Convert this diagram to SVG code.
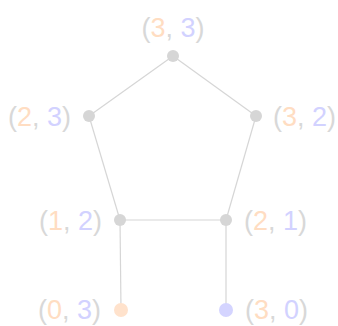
<svg xmlns="http://www.w3.org/2000/svg" width="338" height="326" viewBox="0 0 338 326">
<style>
.e{stroke:#d6d6d6;stroke-width:1.2;fill:none}
.n{fill:#d6d6d6}
.t{font-family:"Liberation Sans",Arial,sans-serif;font-size:27px;fill:#d8d8d8}
.o{fill:#ffddc2}
.b{fill:#d2d2ff}
</style>
<rect width="338" height="326" fill="#ffffff"/>
<g id="connectors">
<line class="e" x1="173" y1="56" x2="89" y2="116"/>
<line class="e" x1="173" y1="56" x2="256" y2="116"/>
<line class="e" x1="89" y1="116" x2="120" y2="220"/>
<line class="e" x1="256" y1="116" x2="226" y2="220"/>
<line class="e" x1="120" y1="220" x2="226" y2="220"/>
<line class="e" x1="120" y1="220" x2="121" y2="310"/>
<line class="e" x1="226" y1="220" x2="226" y2="310"/>
</g>
<g id="n33"><circle class="n" cx="173" cy="56" r="6"/><text class="t" x="173" y="37" text-anchor="middle">(<tspan class="o">3</tspan>, <tspan class="b">3</tspan>)</text></g>
<g id="n23"><circle class="n" cx="89" cy="116" r="6"/><text class="t" x="71" y="126" text-anchor="end">(<tspan class="o">2</tspan>, <tspan class="b">3</tspan>)</text></g>
<g id="n32"><circle class="n" cx="256" cy="116" r="6"/><text class="t" x="273" y="126">(<tspan class="o">3</tspan>, <tspan class="b">2</tspan>)</text></g>
<g id="n12"><circle class="n" cx="120" cy="220" r="6"/><text class="t" x="102" y="230" text-anchor="end">(<tspan class="o">1</tspan>, <tspan class="b">2</tspan>)</text></g>
<g id="n21"><circle class="n" cx="226" cy="220" r="6"/><text class="t" x="244" y="230">(<tspan class="o">2</tspan>, <tspan class="b">1</tspan>)</text></g>
<g id="n03"><circle cx="121" cy="310" r="7" fill="#ffe2cc"/><text class="t" x="101" y="319" text-anchor="end">(<tspan class="o">0</tspan>, <tspan class="b">3</tspan>)</text></g>
<g id="n30"><circle cx="226" cy="310" r="7" fill="#d4d4ff"/><text class="t" x="245" y="319">(<tspan class="o">3</tspan>, <tspan class="b">0</tspan>)</text></g>
</svg>
